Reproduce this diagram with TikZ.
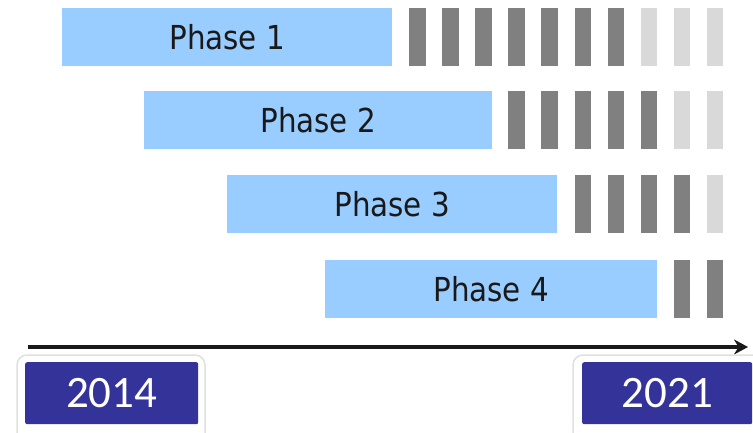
\documentclass[tikz,border=0pt]{standalone}
\usepackage{fontspec}
\usetikzlibrary{arrows.meta}
\newfontfamily\phasefont{DejaVu Sans}[FakeStretch=0.89]
\newfontfamily\yearfont{Carlito}
\definecolor{phaseblue}{HTML}{99CCFF}
\definecolor{stripedark}{HTML}{808080}
\definecolor{stripelight}{HTML}{D9D9D9}
\definecolor{yearblue}{HTML}{333399}
\begin{document}
\begin{tikzpicture}[x=1pt,y=-1pt,
  phasebar/.style={fill=phaseblue,draw=none,inner sep=0pt,
    font=\phasefont\fontsize{33}{33}\selectfont,text=black!90},
  darkstripe/.style={fill=stripedark},
  lightstripe/.style={fill=stripelight},
  yearframe/.style={fill=white,draw=black!12,line width=1.5pt,rounded corners=10pt},
  yearbox/.style={fill=yearblue,draw=none,rounded corners=2pt,inner sep=0pt,
    text=white,font=\yearfont\fontsize{45}{45}\selectfont},
  timeline/.style={line width=3.2pt,draw=black!90,-{Stealth[length=14pt,width=15pt]}}]
\useasboundingbox (0,0) rectangle (753,432);
\clip (0,0) rectangle (753,432);

% phase bars: left edge, right edge, top edge, label
\foreach \l/\r/\t/\name [count=\k] in {62/392/8/Phase 1, 144/492/91/Phase 2,
    227/557/175/Phase 3, 325/657/260/Phase 4}{
  \node[phasebar,minimum width={\r-\l},minimum height=58,anchor=north west]
    (phase\k) at (\l,\t) {\name};
}

% stripe columns after each bar (dark, then light)
\newcommand\stripe[3]{% style, column, top edge
  \fill[#1] ({409+(#2-1)*33.1},#3) rectangle ++(16.5,58);}
\foreach \c in {1,...,7}{\stripe{darkstripe}{\c}{8}}
\foreach \c in {8,9,10}{\stripe{lightstripe}{\c}{8}}
\foreach \c in {4,...,8}{\stripe{darkstripe}{\c}{91}}
\foreach \c in {9,10}{\stripe{lightstripe}{\c}{91}}
\foreach \c in {6,...,9}{\stripe{darkstripe}{\c}{175}}
\foreach \c in {10}{\stripe{lightstripe}{\c}{175}}
\foreach \c in {9,10}{\stripe{darkstripe}{\c}{260}}

% time axis
\coordinate (axisstart) at (28,347);
\coordinate (axisend) at (748,347);
\draw[timeline] (axisstart) -- (axisend);

% year labels
\draw[yearframe] (17,355) rectangle (205,445);
\node[yearbox,minimum width=173,minimum height=62,anchor=north west]
  (start) at (25,362) {2014};
\draw[yearframe] (573,355) rectangle (770,445);
\node[yearbox,minimum width=170,minimum height=62,anchor=north west]
  (end) at (582,362) {2021};
\end{tikzpicture}
\end{document}
